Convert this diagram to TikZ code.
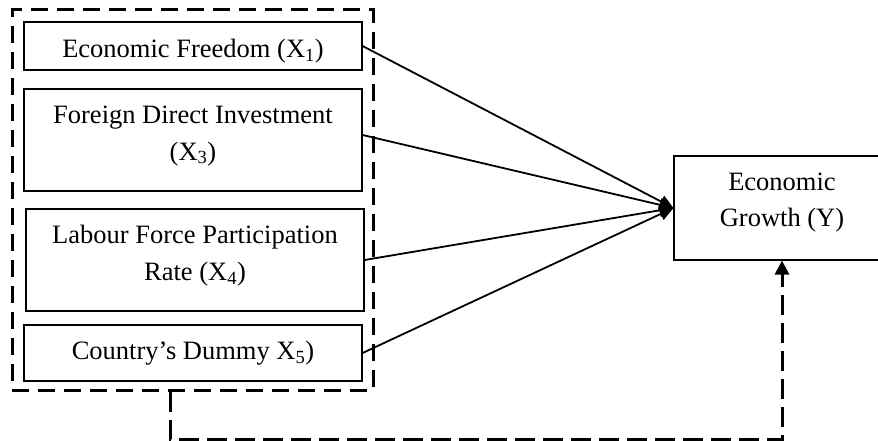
\documentclass[tikz,border=0pt]{standalone}
\usepackage{fontspec}
\setmainfont{Liberation Serif}
\usetikzlibrary{arrows.meta,calc}
\begin{document}
\begin{tikzpicture}[x=1pt,y=-1pt,
  varbox/.style={draw, line width=1.1pt, minimum width=338pt, inner sep=0pt,
    align=center, font=\fontsize{26.5}{36.5}\selectfont},
  dashbox/.style={draw, line width=3pt, dash pattern=on 17pt off 9pt, inner sep=0pt},
  link/.style={line width=1.8pt, -{Triangle[length=14pt,width=13pt]}},
  dashlink/.style={line width=3pt, dash pattern=on 20pt off 8pt,
    -{Triangle[length=14pt,width=14pt]}}]
\useasboundingbox (0,0) rectangle (878,441);
\clip (0,0) rectangle (878,441);
\fill[white] (0,0) rectangle (878,441);
% group
\node[dashbox, minimum width=361pt, minimum height=380pt] (grp) at (192.5,200) {};
% variable boxes
\node[varbox, minimum height=48pt, text height=28.4pt, text depth=5.8pt] (x1) at (193,46) {Economic Freedom (X\textsubscript{1})};
\node[varbox, minimum height=102pt, text depth=14pt] (x3) at (193,140) {Foreign Direct Investment\\(X\textsubscript{3})};
\node[varbox, minimum height=102pt, text depth=14pt] (x4) at (195,260) {Labour Force Participation\\Rate (X\textsubscript{4})};
\node[varbox, minimum height=56pt] (x5) at (193,353) {Country’s Dummy X\textsubscript{5})};
% outcome
\node[varbox, minimum width=216pt, minimum height=104pt, text depth=16.6pt] (y) at (782,208) {Economic\\Growth (Y)};
% connectors
\draw[link] (x1.east) -- (y.west);
\draw[link] ([yshift=5pt]x3.east) -- (y.west);
\draw[link] (x4.east) -- (y.west);
\draw[link] (x5.east) -- (y.west);
\coordinate (d0) at ([xshift=-22.5pt]grp.south);
\coordinate (d1) at (170,439);
\draw[dashlink] (d0) -- (d1) -| (y.south);
\end{tikzpicture}
\end{document}
